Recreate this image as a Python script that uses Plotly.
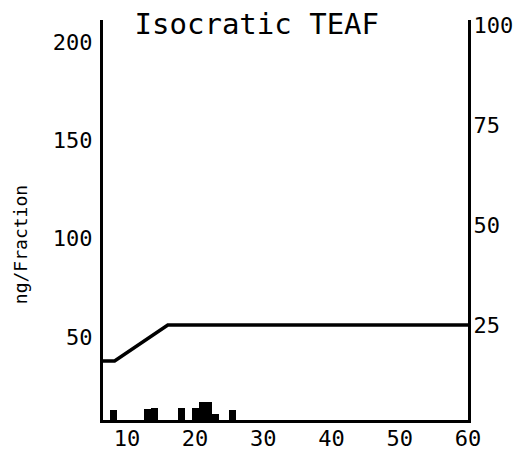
import plotly.graph_objects as go

# Fraction data (ng/Fraction, left axis)
fraction_x = [8, 13, 14, 18, 20, 21, 22, 23, 25.5]
fraction_ng = [12.7, 13.2, 13.7, 13.7, 13.7, 16.8, 16.8, 10.7, 12.7]

# Gradient line (right axis, %)
gradient_x = [6.5, 8.2, 16, 60]
gradient_pct = [16, 16, 25, 25]

x_ticks = [10, 20, 30, 40, 50, 60]
left_ticks = [50, 100, 150, 200]
right_ticks = [25, 50, 75, 100]

FONT = "DejaVu Sans Mono"

fig = go.Figure()
fig.add_trace(go.Bar(x=fraction_x, y=fraction_ng, width=1.0,
                     marker=dict(color="black", line=dict(width=0)),
                     showlegend=False))
fig.add_trace(go.Scatter(x=gradient_x, y=gradient_pct, yaxis="y2", mode="lines",
                         line=dict(color="black", width=3.5), showlegend=False))

fig.update_layout(
    width=522, height=456,
    margin=dict(l=103, r=54, t=20, b=36, autoexpand=False),
    paper_bgcolor="white", plot_bgcolor="white",
    font=dict(family=FONT, color="black", size=22),
    title=dict(text="Isocratic TEAF", x=0.492, xanchor="center",
               y=1 - 24 / 456, yanchor="middle", yref="container",
               font=dict(family=FONT, size=29, color="black")),
    bargap=0,
    xaxis=dict(range=[6.5, 60], tickvals=x_ticks, showgrid=False, zeroline=False,
               showline=True, linecolor="black", linewidth=3, ticks="",
               automargin=False,
               ticklabelstandoff=-3, tickfont=dict(size=22)),
    yaxis=dict(range=[7.8, 211.2], tickvals=left_ticks, showgrid=False, zeroline=False,
               showline=True, linecolor="black", linewidth=3, ticks="",
               automargin=False,
               ticklabelstandoff=3, tickfont=dict(size=22)),
    yaxis2=dict(range=[1.25, 101.25], tickvals=right_ticks, overlaying="y", side="right",
                showgrid=False, zeroline=False, showline=True, linecolor="black",
                automargin=False,
                linewidth=3, ticks="", ticklabelstandoff=-2, tickfont=dict(size=22)),
    annotations=[dict(text="ng/Fraction", textangle=-90, showarrow=False,
                      xref="paper", yref="paper", x=-0.227, y=0.4375,
                      xanchor="center", yanchor="middle",
                      font=dict(family=FONT, size=18, color="black"))],
)

fig.write_html("out.html", config={"displayModeBar": False},
               post_script="document.body.style.margin='0';")
